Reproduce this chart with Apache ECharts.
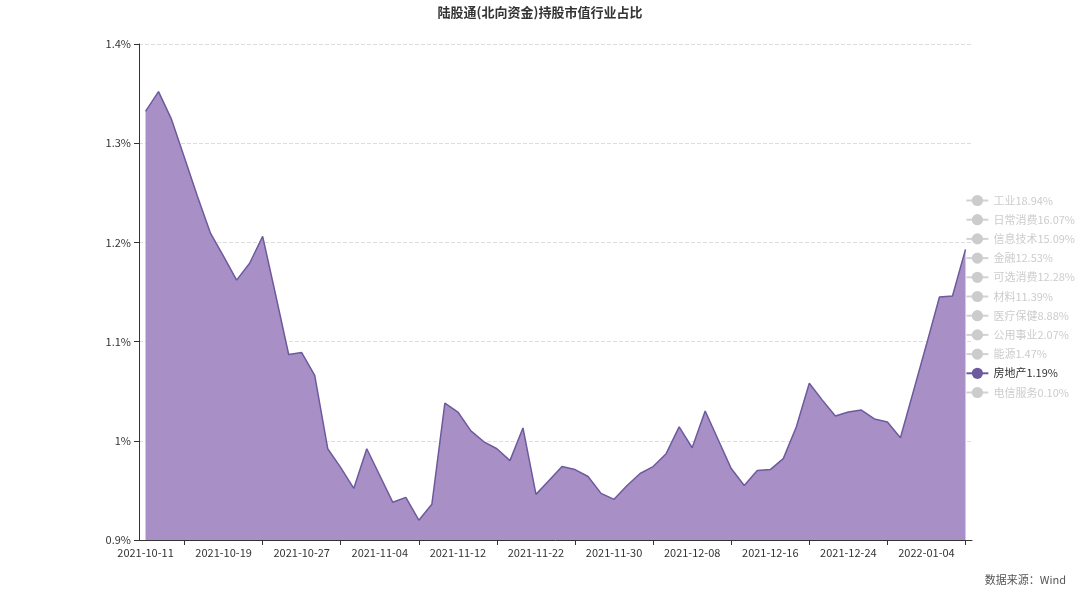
<!DOCTYPE html>
<html>
<head>
<meta charset="utf-8">
<script src="https://cdn.jsdelivr.net/npm/echarts@6/dist/echarts.min.js"></script>
<style>
html,body{margin:0;padding:0;background:#fff;}
#main{width:1080px;height:593px;}
</style>
</head>
<body>
<div id="main"></div>
<script>
// Categories: trading days
var dates = [
'2021-10-11','2021-10-12','2021-10-13','2021-10-14','2021-10-15','2021-10-18','2021-10-19','2021-10-20','2021-10-21','2021-10-22',
'2021-10-25','2021-10-26','2021-10-27','2021-10-28','2021-10-29',
'2021-11-01','2021-11-02','2021-11-03','2021-11-04','2021-11-05','2021-11-08','2021-11-09','2021-11-10','2021-11-11','2021-11-12',
'2021-11-15','2021-11-16','2021-11-17','2021-11-18','2021-11-19','2021-11-22','2021-11-23','2021-11-24','2021-11-25','2021-11-26',
'2021-11-29','2021-11-30',
'2021-12-01','2021-12-02','2021-12-03','2021-12-06','2021-12-07','2021-12-08','2021-12-09','2021-12-10','2021-12-13','2021-12-14',
'2021-12-15','2021-12-16','2021-12-17','2021-12-20','2021-12-21','2021-12-22','2021-12-23','2021-12-24','2021-12-27','2021-12-28',
'2021-12-29','2021-12-30','2021-12-31',
'2022-01-04','2022-01-05','2022-01-06','2022-01-07'
];

// Legend names (industry share of northbound holdings)
var industries = ['工业18.94%','日常消费16.07%','信息技术15.09%','金融12.53%','可选消费12.28%','材料11.39%','医疗保健8.88%','公用事业2.07%','能源1.47%','房地产1.19%','电信服务0.10%'];

// Real estate (房地产) share, %
var realEstate = [
1.332,1.352,1.324,1.285,1.246,1.209,1.186,1.162,1.179,1.206,
1.147,1.087,1.089,1.066,0.992,0.973,0.952,0.992,0.965,0.938,
0.943,0.920,0.936,1.038,1.029,1.010,0.999,0.992,0.980,1.013,
0.946,0.960,0.974,0.971,0.964,0.947,0.941,0.955,0.967,0.974,
0.987,1.014,0.993,1.030,1.001,0.972,0.955,0.970,0.971,0.982,
1.014,1.058,1.041,1.025,1.029,1.031,1.022,1.019,1.003,1.050,
1.097,1.145,1.146,1.193
];

var shownSeries = '房地产1.19%';

var chart = echarts.init(document.getElementById('main'));
var selected = {};
var series = industries.map(function(name){
  selected[name] = (name === shownSeries);
  var isShown = name === shownSeries;
  return {
    name: name,
    type: 'line',
    data: isShown ? realEstate : [],
    symbol: 'circle',
    showSymbol: false,
    symbolSize: 6,
    lineStyle: {width: 1.5, color: isShown ? '#6d5a9e' : '#999'},
    itemStyle: {color: isShown ? '#6d5a9e' : '#999'},
    areaStyle: isShown ? {color: '#a890c6', opacity: 1} : undefined
  };
});

var font = '"Noto Sans CJK SC", "Noto Sans", sans-serif';

var option = {
  backgroundColor: '#fff',
  animation: false,
  textStyle: {fontFamily: font},
  title: {
    text: '陆股通(北向资金)持股市值行业占比',
    left: 'center',
    top: 1,
    textStyle: {fontSize: 13, fontWeight: 'bold', color: '#333', fontFamily: font}
  },
  graphic: [{
    type: 'text',
    right: 14,
    bottom: 8,
    style: {text: '数据来源：Wind', fill: '#555', fontSize: 11, fontFamily: font}
  }],
  legend: {
    orient: 'vertical',
    right: 0,
    top: 'middle',
    itemWidth: 22,
    itemHeight: 14,
    itemGap: 8,
    selected: selected,
    inactiveColor: '#ccc',
    textStyle: {fontSize: 11, color: '#333', fontFamily: font},
    data: industries
  },
  grid: {left: 139, right: 108, top: 44, bottom: 53},
  xAxis: [{
    type: 'category',
    data: dates,
    boundaryGap: true,
    axisLine: {lineStyle: {color: '#333'}},
    axisTick: {show: false},
    axisLabel: {interval: 5, color: '#333', fontSize: 11, margin: 7}
  }, {
    // tick-only twin axis (ticks counted from the last trading day)
    type: 'category',
    data: dates,
    position: 'bottom',
    inverse: true,
    boundaryGap: true,
    axisLine: {show: false},
    axisLabel: {show: false},
    splitLine: {show: false},
    axisTick: {show: true, alignWithLabel: true, interval: 5, lineStyle: {color: '#333'}}
  }],
  yAxis: {
    type: 'value',
    min: 0.9,
    max: 1.4,
    interval: 0.1,
    axisLine: {show: true, lineStyle: {color: '#333'}},
    axisTick: {show: true, lineStyle: {color: '#333'}},
    axisLabel: {color: '#333', fontSize: 11, formatter: function(v){ return (+v.toFixed(2)) + '%'; }},
    splitLine: {lineStyle: {type: 'dashed', color: '#ddd'}}
  },
  series: series
};
chart.setOption(option);
</script>
</body>
</html>
